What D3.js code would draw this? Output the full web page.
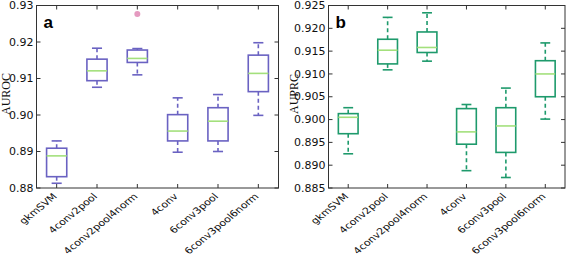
<!DOCTYPE html>
<html><head><meta charset="utf-8">
<script src="https://cdn.jsdelivr.net/npm/d3@7"></script>
<style>body{margin:0;background:#fff;}svg{display:block;}</style>
</head><body>
<script>
const categories = ["gkmSVM","4conv2pool","4conv2pool4norm","4conv","6conv3pool","6conv3pool6norm"];
// [lower whisker, q1, median, q3, upper whisker]
const aurocStats = [
  [0.8813,0.8831,0.8888,0.8909,0.8929],
  [0.9076,0.9094,0.9121,0.9153,0.9183],
  [0.9110,0.9144,0.9155,0.9178,0.9182],
  [0.8898,0.8929,0.8956,0.9001,0.9047],
  [0.8900,0.8929,0.8983,0.9020,0.9056],
  [0.8999,0.9064,0.9114,0.9164,0.9198]
];
const aurocOutliers = [[], [], [0.9277], [], [], []];
const auprcStats = [
  [0.8925,0.8969,0.9005,0.9013,0.9026],
  [0.9109,0.9122,0.9152,0.9176,0.9224],
  [0.9128,0.9147,0.9158,0.9192,0.9234],
  [0.8888,0.8946,0.8973,0.9024,0.9033],
  [0.8873,0.8928,0.8986,0.9026,0.9069],
  [0.9001,0.9050,0.9100,0.9129,0.9168]
];
const auprcOutliers = [[], [], [], [], [], []];
const aurocTicks = [0.88,0.89,0.90,0.91,0.92,0.93];
const auprcTicks = [0.885,0.890,0.895,0.900,0.905,0.910,0.915,0.920,0.925];

const W = 567, H = 256;
const svg = d3.select("body").append("svg").attr("width", W).attr("height", H);

function panel(opt) {
  const g = svg.append("g");
  const x = d3.scaleBand().domain(categories).range([opt.x0, opt.x1]);
  const y = d3.scaleLinear().domain(opt.domain).range([188, 5.5]);
  const top = 5.5, bot = 188;
  const bw = x.bandwidth() * 0.5, cw = bw * 0.5;
  g.append("rect").attr("x", opt.x0).attr("y", top).attr("width", opt.x1 - opt.x0).attr("height", bot - top)
    .attr("fill", "none").attr("stroke", "#333").attr("stroke-width", 1);
  opt.ticks.forEach(t => {
    const yy = y(t);
    g.append("line").attr("x1", opt.x0).attr("x2", opt.x0 + 4).attr("y1", yy).attr("y2", yy).attr("stroke", "#333");
    g.append("line").attr("x1", opt.x1).attr("x2", opt.x1 - 4).attr("y1", yy).attr("y2", yy).attr("stroke", "#333");
    g.append("text").attr("transform", `translate(${opt.x0 - 3},${yy}) scale(1,0.9)`).attr("dy", "0.36em")
      .attr("text-anchor", "end").attr("font-family", "DejaVu Sans").attr("font-size", 11)
      .attr("fill", "#111").text(opt.fmt(t));
  });
  categories.forEach(c => {
    const xx = x(c) + x.bandwidth() / 2;
    g.append("line").attr("x1", xx).attr("x2", xx).attr("y1", bot).attr("y2", bot - 4).attr("stroke", "#333");
    g.append("line").attr("x1", xx).attr("x2", xx).attr("y1", top).attr("y2", top + 4).attr("stroke", "#333");
    g.append("text").attr("transform", `translate(${xx + 1},${bot + 9}) scale(1,0.82) rotate(-45)`)
      .attr("text-anchor", "end")
      .attr("font-family", "DejaVu Sans").attr("font-size", 11).attr("fill", "#111").text(c);
  });
  opt.stats.forEach((s, i) => {
    const cx = x(categories[i]) + x.bandwidth() / 2;
    const [lo, q1, md, q3, hi] = s;
    const st = opt.color;
    g.append("line").attr("x1", cx).attr("x2", cx).attr("y1", y(q3)).attr("y2", y(hi))
      .attr("stroke", st).attr("stroke-width", 1.6).attr("stroke-dasharray", "4,3");
    g.append("line").attr("x1", cx).attr("x2", cx).attr("y1", y(q1)).attr("y2", y(lo))
      .attr("stroke", st).attr("stroke-width", 1.6).attr("stroke-dasharray", "4,3");
    [lo, hi].forEach(v => g.append("line").attr("x1", cx - cw / 2).attr("x2", cx + cw / 2)
      .attr("y1", y(v)).attr("y2", y(v)).attr("stroke", st).attr("stroke-width", 1.6));
    g.append("rect").attr("x", cx - bw / 2).attr("y", y(q3)).attr("width", bw).attr("height", y(q1) - y(q3))
      .attr("fill", "none").attr("stroke", st).attr("stroke-width", 1.6);
    g.append("line").attr("x1", cx - bw / 2).attr("x2", cx + bw / 2).attr("y1", y(md)).attr("y2", y(md))
      .attr("stroke", "#a3e07c").attr("stroke-width", 1.6);
    opt.outliers[i].forEach(v => g.append("circle").attr("cx", cx).attr("cy", y(v)).attr("r", 3)
      .attr("fill", "#e59ac0"));
  });
  g.append("text").attr("transform", `translate(${opt.labelX},94) rotate(-90)`)
    .attr("text-anchor", "middle").attr("font-family", "Liberation Serif").attr("font-size", 12)
    .attr("fill", "#111").text(opt.label);
  g.append("text").attr("x", opt.x0 + 7).attr("y", 28).attr("font-family", "Liberation Sans")
    .attr("font-weight", "bold").attr("font-size", 17).attr("fill", "#000").text(opt.letter);
}

panel({x0: 36.5, x1: 278.5, domain: [0.88, 0.93], ticks: aurocTicks, fmt: d3.format(".2f"),
  stats: aurocStats, outliers: aurocOutliers, color: "#6a62c2", label: "AUROC", labelX: 10, letter: "a"});
panel({x0: 328.5, x1: 565, domain: [0.885, 0.925], ticks: auprcTicks, fmt: d3.format(".3f"),
  stats: auprcStats, outliers: auprcOutliers, color: "#1e9a6c", label: "AUPRC", labelX: 297.5, letter: "b"});
</script>
</body></html>
